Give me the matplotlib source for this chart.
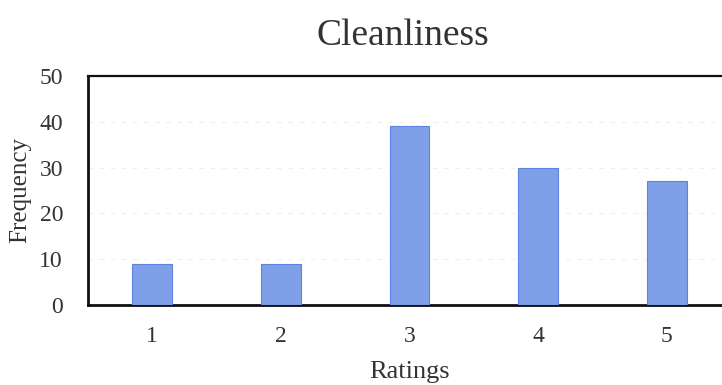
import matplotlib.pyplot as plt

# ratings histogram for cleanliness
ratings = [1, 2, 3, 4, 5]
frequency = [9, 9, 39, 30, 27]
y_ticks = [0, 10, 20, 30, 40, 50]

plt.rcParams['font.family'] = ['Liberation Serif', 'DejaVu Serif']

fig = plt.figure(figsize=(7.22, 3.85), dpi=100)
ax = fig.add_axes([0.1219, 0.2078, 0.8906, 0.5948])

ax.bar(ratings, frequency, width=0.31, color='#7f9fe8', edgecolor='#5f82e0', linewidth=0.8, zorder=3)

ax.set_xlim(0.5, 5.5)
ax.set_ylim(0, 50)
ax.set_yticks(y_ticks)
ax.set_xticks(ratings)
ax.yaxis.grid(True, color='#eeeeee', linestyle=(0, (4, 6)), linewidth=0.8, zorder=0)

ax.tick_params(length=0, labelsize=17, colors='#333333')
ax.tick_params(axis='y', pad=18)
ax.tick_params(axis='x', pad=15)

for side in ['left', 'bottom']:
    ax.spines[side].set_linewidth(2.0)
ax.spines['top'].set_linewidth(1.6)
ax.spines['right'].set_linewidth(1.6)
for sp in ax.spines.values():
    sp.set_color('#111111')

ax.set_title('Cleanliness', fontsize=27, color='#333333', pad=22, x=0.49)
ax.set_ylabel('Frequency', fontsize=18, color='#333333', labelpad=6)
ax.set_xlabel('Ratings', fontsize=19, color='#333333', labelpad=10)

fig.savefig('out.png', dpi=100)
